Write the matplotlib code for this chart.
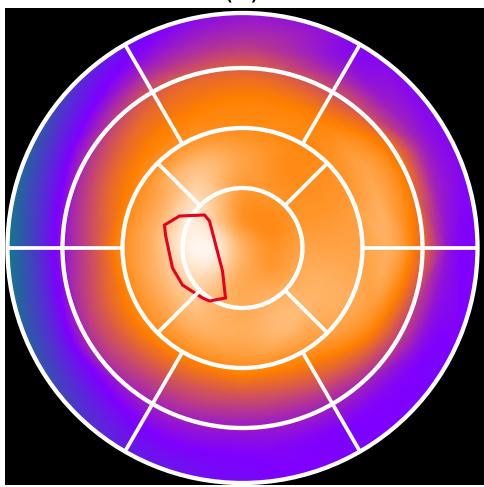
import numpy as np
import matplotlib
matplotlib.use("Agg")
import matplotlib.pyplot as plt
import matplotlib.tri as mtri
from matplotlib.colors import LinearSegmentedColormap
from matplotlib.patches import Circle, Polygon

# perfusion samples on a polar grid (0 = low, 1 = high)
node_angles = np.arange(0, 360, 30)  # deg, counter-clockwise from 3 o'clock
node_radii = [0.5, 1.0, 1.5, 2.0, 2.5, 3.0, 3.5, 4.2]
center_value = 0.80
ring_values = [
    # 0     30    60    90    120   150   180   210   240   270   300   330
    [0.72, 0.70, 0.70, 0.72, 0.80, 0.92, 0.97, 0.93, 0.84, 0.78, 0.76, 0.73],  # r=0.5
    [0.76, 0.72, 0.72, 0.74, 0.86, 0.94, 0.95, 0.90, 0.82, 0.78, 0.80, 0.78],  # r=1.0
    [0.76, 0.72, 0.70, 0.76, 0.84, 0.80, 0.80, 0.80, 0.80, 0.78, 0.82, 0.80],  # r=1.5
    [0.76, 0.73, 0.69, 0.70, 0.72, 0.70, 0.70, 0.70, 0.69, 0.70, 0.72, 0.78],  # r=2.0
    [0.78, 0.76, 0.67, 0.67, 0.65, 0.60, 0.54, 0.58, 0.55, 0.54, 0.58, 0.70],  # r=2.5
    [0.60, 0.64, 0.54, 0.58, 0.56, 0.45, 0.38, 0.44, 0.42, 0.40, 0.42, 0.50],  # r=3.0
    [0.36, 0.40, 0.38, 0.45, 0.38, 0.24, 0.15, 0.22, 0.31, 0.33, 0.33, 0.34],  # r=3.5
    [0.33, 0.33, 0.33, 0.34, 0.22, 0.00, -0.10, 0.02, 0.20, 0.30, 0.33, 0.33],  # r=4.2
]

# segment boundaries of the 17-segment bullseye
ring_radii = [1.0, 2.0, 3.0]
outer_radius = 3.917
apical_angles = [45, 135, 225, 315]
basal_angles = [0, 60, 120, 180, 240, 300]

# outlined defect region
defect_x = [-1.30, -1.05, -0.633, -0.55, -0.333, -0.283, -0.55, -0.667, -1.0, -1.167, -1.283]
defect_y = [0.383, 0.533, 0.55, 0.45, -0.383, -0.833, -0.883, -0.833, -0.617, -0.333, 0.217]

cmap = LinearSegmentedColormap.from_list(
    "perf", [(0.0, "#12798c"), (0.33, "#7f00ff"), (0.67, "#ff8000"), (1.0, "#ffffff")]
)
cmap.set_under("#12798c")
cmap.set_over("#ffffff")

# nodes
xs, ys, zs = [0.0], [0.0], [center_value]
for r, row in zip(node_radii, ring_values):
    for a, v in zip(node_angles, row):
        xs.append(r * np.cos(np.radians(a)))
        ys.append(r * np.sin(np.radians(a)))
        zs.append(v)
xs, ys, zs = np.array(xs), np.array(ys), np.array(zs)

tri = mtri.Triangulation(xs, ys)
interp = mtri.CubicTriInterpolator(tri, zs, kind="geom")
refiner = mtri.UniformTriRefiner(tri)
tri_f, z_f = refiner.refine_field(zs, triinterpolator=interp, subdiv=4)

fig = plt.figure(figsize=(4.84, 4.87), dpi=100)
fig.patch.set_facecolor("white")
ax = fig.add_axes([5 / 484, 2 / 487, 479 / 484, 477 / 487])
ax.set_facecolor("black")
ax.set_xlim(-3.958, 4.025)
ax.set_ylim(-3.95, 4.0)
ax.set_xticks([])
ax.set_yticks([])
for s in ax.spines.values():
    s.set_visible(False)

clip = Circle((0, 0), outer_radius, transform=ax.transData)
mesh = ax.tripcolor(tri_f, z_f, shading="gouraud", cmap=cmap, vmin=0, vmax=1)
mesh.set_clip_path(clip)

# ring circles
for r in ring_radii + [outer_radius]:
    ax.add_patch(Circle((0, 0), r, fill=False, edgecolor="white", lw=3.1))

# segment spokes
for a in apical_angles:
    c, s = np.cos(np.radians(a)), np.sin(np.radians(a))
    ax.plot([c * 1.0, c * 2.0], [s * 1.0, s * 2.0], color="white", lw=2.7, solid_capstyle="butt")
for a in basal_angles:
    c, s = np.cos(np.radians(a)), np.sin(np.radians(a))
    ax.plot([c * 2.0, c * outer_radius], [s * 2.0, s * outer_radius],
            color="white", lw=2.7, solid_capstyle="butt")

ax.add_patch(Polygon(np.column_stack([defect_x, defect_y]), closed=True,
                     fill=False, edgecolor="#e8001c", lw=2.2))

fig.text(0.5, 1 + 2 / 487, "(a)", ha="center", va="baseline", fontsize=20, color="black")

fig.savefig("out.png", dpi=100, facecolor="white")
